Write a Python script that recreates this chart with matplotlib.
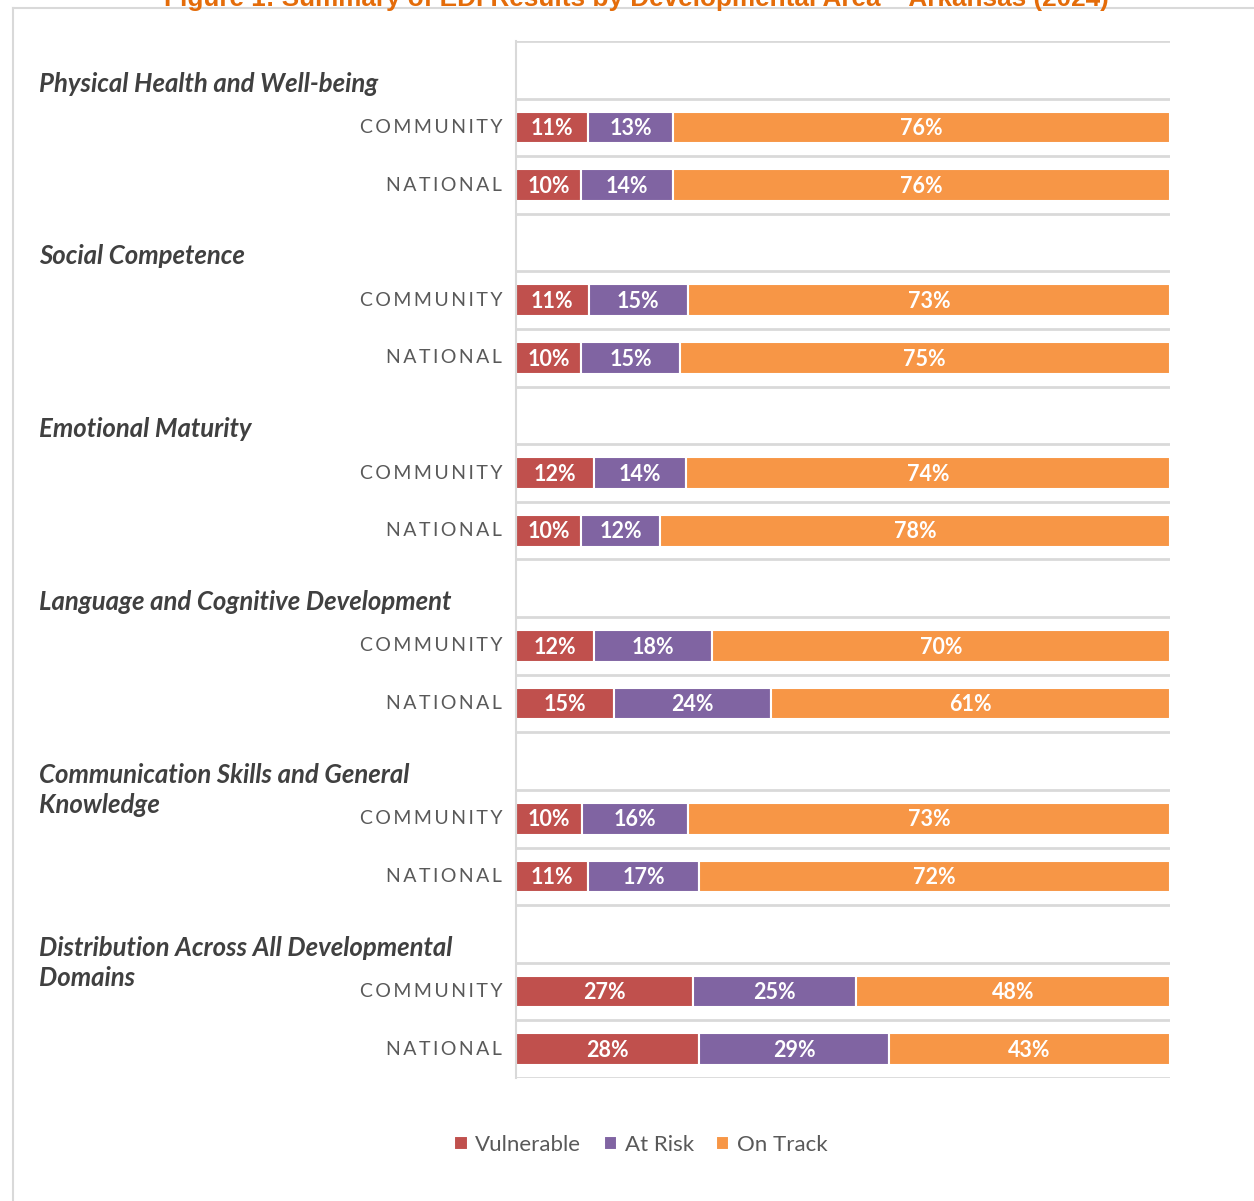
import matplotlib
matplotlib.use("Agg")
import matplotlib.pyplot as plt
from matplotlib.lines import Line2D
import numpy as np

domains = [
    "Physical Health and Well-being",
    "Social Competence",
    "Emotional Maturity",
    "Language and Cognitive Development",
    "Communication Skills and General\nKnowledge",
    "Distribution Across All Developmental\nDomains",
]
groups = ["COMMUNITY", "NATIONAL"]
vulnerable = [[11, 10], [11, 10], [12, 10], [12, 15], [10, 11], [27, 28]]
at_risk = [[13, 14], [15, 15], [14, 12], [18, 24], [16, 17], [25, 29]]
on_track = [[76, 76], [73, 75], [74, 78], [70, 61], [73, 72], [48, 43]]
series_names = ["Vulnerable", "At Risk", "On Track"]
colors = ["#C0504D", "#8064A2", "#F79646"]

title = "Figure 1: Summary of EDI Results by Developmental Area \u2013 Arkansas (2024)"

W, H = 1254, 1201
fig = plt.figure(figsize=(W / 100, H / 100), dpi=100)
fam = ["Lato", "DejaVu Sans"]

# outer frame (partly clipped like the source)
frame_c = "#d9d9d9"
fig.add_artist(Line2D([12.5 / W, 12.5 / W], [0, 1 - 8 / H], color=frame_c, lw=1.5,
                      transform=fig.transFigure))
fig.add_artist(Line2D([12.5 / W, 1], [1 - 8 / H, 1 - 8 / H], color=frame_c, lw=1.5,
                      transform=fig.transFigure))
fig.text(636 / W, 1 - 6 / H, title, ha="center", va="baseline", color="#E46C0A",
         fontsize=18.8, fontweight="bold",
         family=["Liberation Sans Narrow", "Liberation Sans", "DejaVu Sans"])

ax = fig.add_axes([516 / W, 1 - 1078 / H, (1170 - 516) / W, (1078 - 41) / H])

n_rows = len(domains) * 3
for i, dom in enumerate(domains):
    for j, grp in enumerate(groups):
        y = i * 3 + 1 + j
        vals = [vulnerable[i][j], at_risk[i][j], on_track[i][j]]
        total = sum(vals)
        left = 0.0
        for k, v in enumerate(vals):
            w = v / total * 100
            ax.barh(y, w, left=left, height=0.55, color=colors[k],
                    edgecolor="white", linewidth=1.5,
                    label=series_names[k] if (i == 0 and j == 0) else None)
            ax.text(left + w / 2, y + 0.02, f"{v}%", ha="center", va="center",
                    color="white", fontsize=15.5, fontweight="bold", family=fam)
            left += w
        ax.text(-0.021, y, "\u2009".join(grp), transform=ax.get_yaxis_transform(),
                ha="right", va="center", color="#595959", fontsize=14, family=fam)
    ax.text(-0.729, i * 3 + 0.03, dom, transform=ax.get_yaxis_transform(),
            ha="left", va="top", color="#404040", fontsize=18.5,
            fontweight="bold", fontstyle="italic", family=fam, linespacing=1.3)

ax.set_xlim(0, 100)
ax.set_ylim(n_rows - 0.5, -0.5)
ax.set_yticks(np.arange(-0.5, n_rows, 1.0))
ax.set_yticklabels([])
ax.set_xticks([])
ax.tick_params(axis="y", length=0)
ax.grid(axis="y", color="#d9d9d9", lw=2)
ax.set_axisbelow(True)
for s in ["top", "right", "bottom"]:
    ax.spines[s].set_visible(False)
ax.spines["left"].set_color("#d9d9d9")
ax.spines["left"].set_linewidth(1.5)

leg = fig.legend(loc="center", bbox_to_anchor=(641 / W, 1 - 1145 / H), ncol=3,
                 frameon=False, handlelength=0.6, handleheight=0.6, handletextpad=0.35,
                 columnspacing=1.0, prop={"family": fam, "size": 16})
for t in leg.get_texts():
    t.set_color("#595959")

fig.savefig("out.png", dpi=100)
